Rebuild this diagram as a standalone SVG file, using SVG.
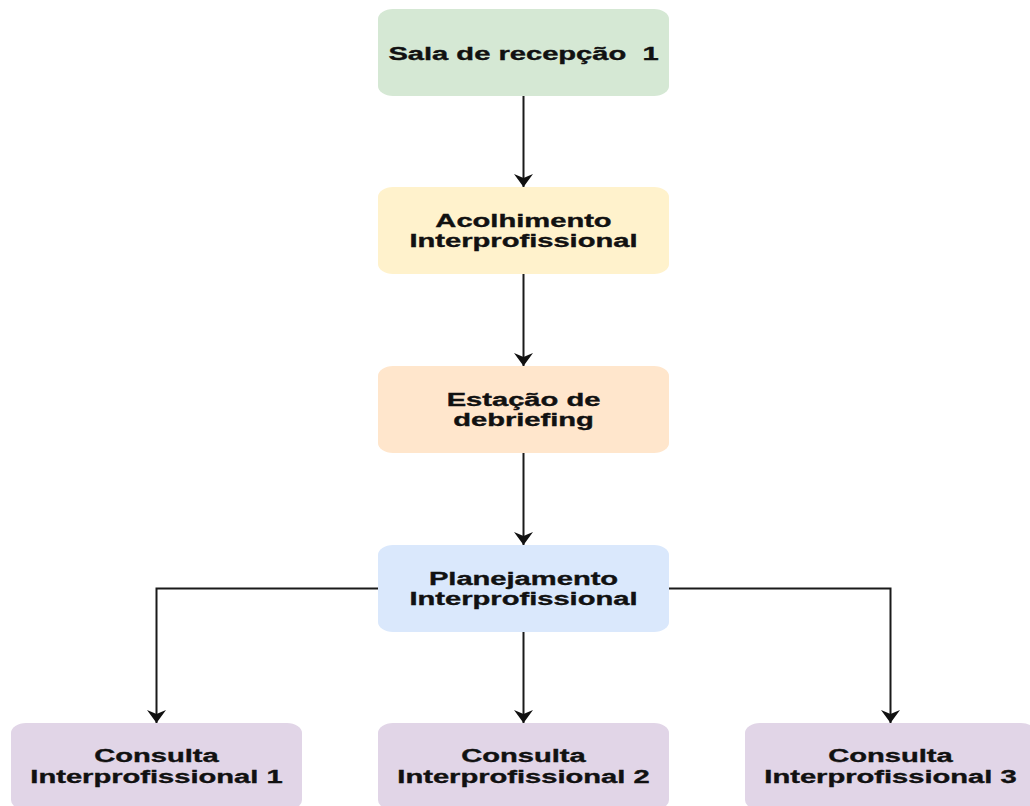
<svg xmlns="http://www.w3.org/2000/svg" width="1030" height="806" viewBox="0 0 1030 806">
  <style>
    .box { stroke: none; }
    .lbl { font-family: "Liberation Sans", Arial, Helvetica, sans-serif; font-weight: bold; font-size: 17.6px; fill: #111; stroke: #111; stroke-width: 0.35; text-anchor: middle; }
    .conn { fill: none; stroke: #1a1a1a; stroke-width: 2; }
  </style>
  <defs>
    <marker id="arrow" viewBox="-14 -11 15 22" markerWidth="15" markerHeight="22" refX="0" refY="0" orient="auto" markerUnits="userSpaceOnUse">
      <path d="M0,0 L-13,-9.5 L-9,0 L-13,9.5 Z" fill="#111"/>
    </marker>
  </defs>
  <rect width="1030" height="806" fill="#fff"/>

  <g id="connectors">
    <path class="conn" d="M523.5,96 V187" marker-end="url(#arrow)"/>
    <path class="conn" d="M523.5,274 V366" marker-end="url(#arrow)"/>
    <path class="conn" d="M523.5,453 V545" marker-end="url(#arrow)"/>
    <path class="conn" d="M523.5,632 V723" marker-end="url(#arrow)"/>
    <path class="conn" d="M378,588.5 H156.5 V723" marker-end="url(#arrow)"/>
    <path class="conn" d="M669,588.5 H890.5 V723" marker-end="url(#arrow)"/>
  </g>

  <g id="node-sala">
    <rect class="box" x="378" y="9" width="291" height="87" rx="15" ry="10" fill="#d5e8d4"/>
    <text class="lbl" xml:space="preserve" transform="matrix(1.655,0,0,1,523.5,0)" x="0" y="60.5">Sala de recepção  1</text>
  </g>

  <g id="node-acolhimento">
    <rect class="box" x="378" y="187" width="291" height="87" rx="15" ry="10" fill="#fff2cc"/>
    <text class="lbl" transform="matrix(1.655,0,0,1,523.5,0)" x="0" y="227">Acolhimento</text>
    <text class="lbl" transform="matrix(1.655,0,0,1,523.5,0)" x="0" y="247.5">Interprofissional</text>
  </g>

  <g id="node-estacao">
    <rect class="box" x="378" y="366" width="291" height="87" rx="15" ry="10" fill="#ffe6cc"/>
    <text class="lbl" transform="matrix(1.655,0,0,1,523.5,0)" x="0" y="406">Estação de</text>
    <text class="lbl" transform="matrix(1.655,0,0,1,523.5,0)" x="0" y="426.5">debriefing</text>
  </g>

  <g id="node-planejamento">
    <rect class="box" x="378" y="545" width="291" height="87" rx="15" ry="10" fill="#dae8fc"/>
    <text class="lbl" transform="matrix(1.655,0,0,1,523.5,0)" x="0" y="584.5">Planejamento</text>
    <text class="lbl" transform="matrix(1.655,0,0,1,523.5,0)" x="0" y="605">Interprofissional</text>
  </g>

  <g id="node-consulta1">
    <rect class="box" x="11" y="723" width="291" height="87" rx="15" ry="10" fill="#e1d5e7"/>
    <text class="lbl" transform="matrix(1.655,0,0,1,156.5,0)" x="0" y="762.5">Consulta</text>
    <text class="lbl" transform="matrix(1.655,0,0,1,156.5,0)" x="0" y="783">Interprofissional 1</text>
  </g>

  <g id="node-consulta2">
    <rect class="box" x="378" y="723" width="291" height="87" rx="15" ry="10" fill="#e1d5e7"/>
    <text class="lbl" transform="matrix(1.655,0,0,1,523.5,0)" x="0" y="762.5">Consulta</text>
    <text class="lbl" transform="matrix(1.655,0,0,1,523.5,0)" x="0" y="783">Interprofissional 2</text>
  </g>

  <g id="node-consulta3">
    <rect class="box" x="745" y="723" width="291" height="87" rx="15" ry="10" fill="#e1d5e7"/>
    <text class="lbl" transform="matrix(1.655,0,0,1,890.5,0)" x="0" y="762.5">Consulta</text>
    <text class="lbl" transform="matrix(1.655,0,0,1,890.5,0)" x="0" y="783">Interprofissional 3</text>
  </g>
</svg>
